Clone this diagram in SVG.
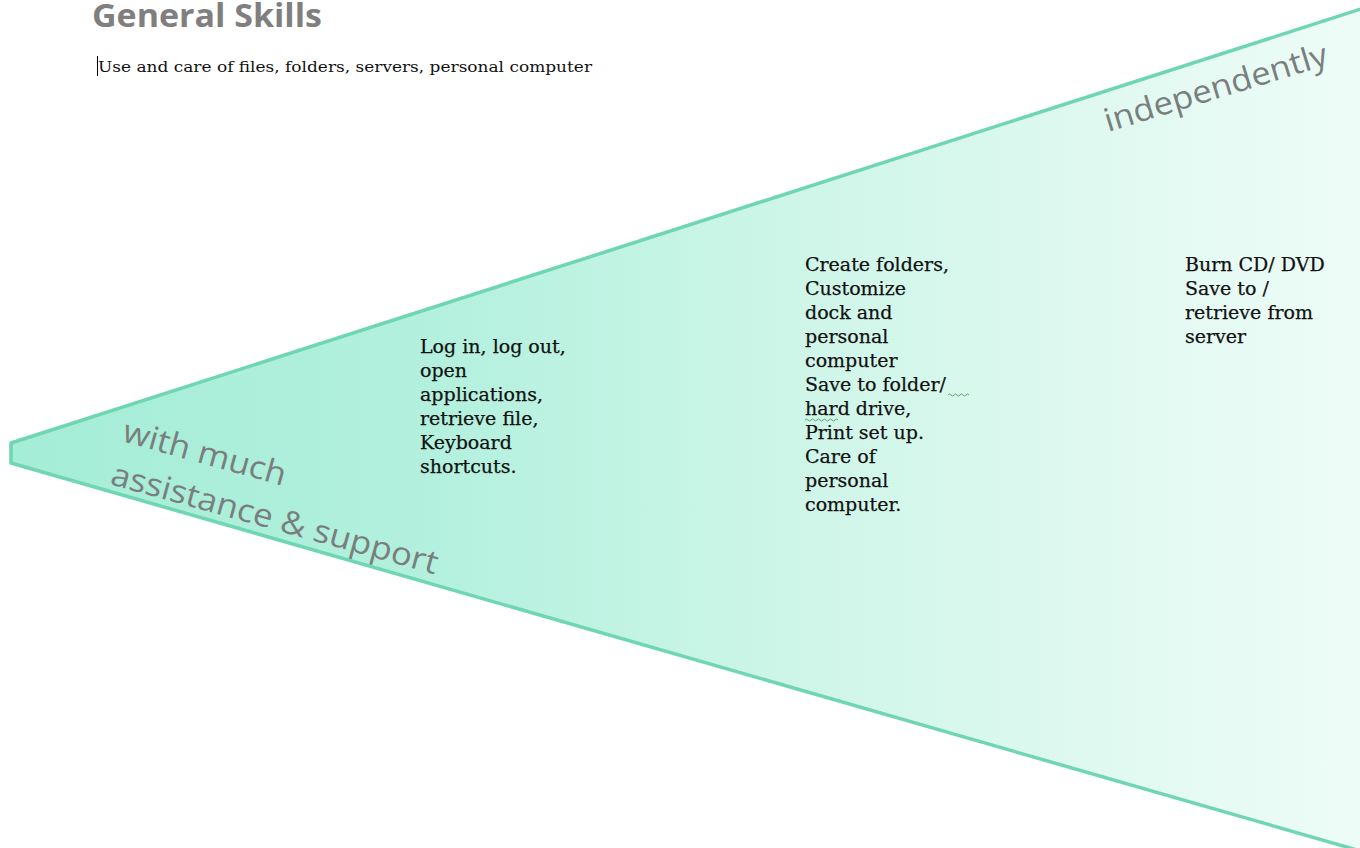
<svg xmlns="http://www.w3.org/2000/svg" width="1360" height="848" viewBox="0 0 1360 848">
  <defs>
    <linearGradient id="mint" x1="0" y1="0" x2="1" y2="0" gradientUnits="objectBoundingBox">
      <stop offset="0" stop-color="#a4edd6"/>
      <stop offset="0.3" stop-color="#b2f0dd"/>
      <stop offset="0.6" stop-color="#d0f6e9"/>
      <stop offset="1" stop-color="#eefcf7"/>
    </linearGradient>
  </defs>
  <style>
    .title { font-family: "Open Sans", "Liberation Sans", sans-serif; font-weight: bold; font-size: 33px; fill: #7f7f7f; }
    .sub { font-family: "DejaVu Serif", "Liberation Serif", serif; font-size: 15px; fill: #111111; }
    .body { font-family: "DejaVu Serif", "Liberation Serif", serif; font-size: 19px; fill: #111111; stroke: #111111; stroke-width: 0.25; }
    .scale { font-family: "Open Sans", "Liberation Sans", sans-serif; font-size: 32px; fill: #7a7f7e; }
    .edge { fill: none; stroke: #6fd6b2; stroke-width: 3.5; stroke-linejoin: round; }
  </style>
  <rect width="1360" height="848" fill="#ffffff"/>

  <g id="wedge">
    <path d="M1364,8 L11,443 L11,463 L1364,852 Z" fill="url(#mint)"/>
    <path class="edge" d="M1364,8 L11,443 L11,463 L1364,852"/>
  </g>

  <g id="heading">
    <text class="title" x="92" y="27" textLength="230" lengthAdjust="spacingAndGlyphs">General Skills</text>
    <line x1="97.5" y1="56" x2="97.5" y2="76" stroke="#000" stroke-width="1"/>
    <text class="sub" x="98" y="72" textLength="494" lengthAdjust="spacingAndGlyphs">Use and care of files, folders, servers, personal computer</text>
  </g>

  <g id="label-start">
    <text class="scale" transform="translate(121,441) rotate(15.5)" textLength="168" lengthAdjust="spacingAndGlyphs">with much</text>
    <text class="scale" transform="translate(109,484) rotate(15.5)" textLength="338" lengthAdjust="spacingAndGlyphs">assistance &amp; support</text>
  </g>

  <g id="label-end">
    <text class="scale" transform="translate(1108,132) rotate(-17)" textLength="232" lengthAdjust="spacingAndGlyphs">independently</text>
  </g>

  <g id="stage1">
    <text class="body" x="420">
      <tspan x="420" y="353">Log in, log out,</tspan>
      <tspan x="420" y="377">open</tspan>
      <tspan x="420" y="401">applications,</tspan>
      <tspan x="420" y="425">retrieve file,</tspan>
      <tspan x="420" y="449">Keyboard</tspan>
      <tspan x="420" y="473">shortcuts.</tspan>
    </text>
  </g>

  <g id="stage2">
    <text class="body" x="805">
      <tspan x="805" y="271">Create folders,</tspan>
      <tspan x="805" y="295">Customize</tspan>
      <tspan x="805" y="319">dock and</tspan>
      <tspan x="805" y="343">personal</tspan>
      <tspan x="805" y="367">computer</tspan>
      <tspan x="805" y="391">Save to folder/</tspan>
      <tspan x="805" y="415">hard drive,</tspan>
      <tspan x="805" y="439">Print set up.</tspan>
      <tspan x="805" y="463">Care of</tspan>
      <tspan x="805" y="487">personal</tspan>
      <tspan x="805" y="511">computer.</tspan>
    </text>
    <path d="M948,395 q1.5,-2 3,0 t3,0 t3,0 t3,0 t3,0 t3,0 t3,0 M805,420 q1.5,-2 3,0 t3,0 t3,0 t3,0 t3,0 t3,0 t3,0 t3,0 t3,0 t3,0 t3,0" fill="none" stroke="#5aa86a" stroke-width="1"/>
  </g>

  <g id="stage3">
    <text class="body" x="1185">
      <tspan x="1185" y="271">Burn CD/ DVD</tspan>
      <tspan x="1185" y="295">Save to /</tspan>
      <tspan x="1185" y="319">retrieve from</tspan>
      <tspan x="1185" y="343">server</tspan>
    </text>
  </g>

  <g id="connectors"/>
</svg>
